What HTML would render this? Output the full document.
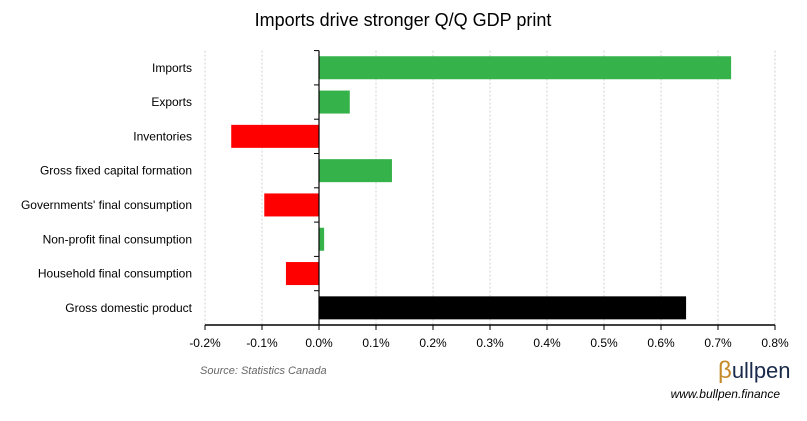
<!DOCTYPE html>
<html><head><meta charset="utf-8"><style>
body{margin:0;background:#fff;font-family:"Liberation Sans",sans-serif}
svg text{font-family:"Liberation Sans",sans-serif}
</style></head><body>
<svg id="c" width="807" height="416" xmlns="http://www.w3.org/2000/svg">
<text x="403" y="26" text-anchor="middle" font-size="18" fill="#000">Imports drive stronger Q/Q GDP print</text>
<g id="grid"></g><g id="bars"></g><g id="axes"></g>
<text x="200" y="374" font-size="11" font-style="italic" fill="#666">Source: Statistics Canada</text>
<text x="718" y="378" font-size="22" fill="#1a2a4a"><tspan fill="#c58a2a" font-size="24">β</tspan>ullpen</text>
<text x="780" y="398" text-anchor="end" font-size="12" font-style="italic" fill="#000">www.bullpen.finance</text>
</svg>
<script>
const categories=["Imports","Exports","Inventories","Gross fixed capital formation","Governments' final consumption","Non-profit final consumption","Household final consumption","Gross domestic product"];
const values=[0.723,0.054,-0.154,0.128,-0.096,0.009,-0.058,0.644];
const colors=["#36b24a","#36b24a","#ff0000","#36b24a","#ff0000","#36b24a","#ff0000","#000000"];
const ticks=[-0.2,-0.1,0,0.1,0.2,0.3,0.4,0.5,0.6,0.7,0.8];
const ns="http://www.w3.org/2000/svg";
const X0=205,X1=775,xmin=-0.2,xmax=0.8,yTop=50.6,yBot=325;
const xs=v=>X0+(v-xmin)/(xmax-xmin)*(X1-X0);
const step=(yBot-yTop)/categories.length;
const ys=i=>yTop+step*i;
function mk(t,a,p){const e=document.createElementNS(ns,t);for(const k in a)e.setAttribute(k,a[k]);p.appendChild(e);return e;}
const G=document.getElementById('grid'),B=document.getElementById('bars'),A=document.getElementById('axes');
ticks.forEach(t=>{
 if(t!==0){const l=mk('line',{x1:xs(t),x2:xs(t),y1:yTop,y2:yBot,stroke:'#d0d0d0','stroke-dasharray':'2,2','stroke-width':1},G);
 
 }
 const tk=mk('line',{x1:xs(t),x2:xs(t),y1:yBot,y2:yBot+5,stroke:'#000'},A);
 
 
 const tx=mk('text',{x:xs(t),y:yBot+22,'text-anchor':'middle','font-size':12,fill:'#000'},A);
 tx.textContent=t.toFixed(1)+'%';
 
 
});
categories.forEach((c,i)=>{
 const v=values[i],h=23,cy=ys(i)+step/2;
 const r=mk('rect',{x:Math.min(xs(0),xs(v)),y:cy-h/2,width:Math.abs(xs(v)-xs(0)),height:h,fill:colors[i]},B);
 
 
 const t=mk('text',{x:192,y:cy+4,'text-anchor':'end','font-size':12,fill:'#000'},A);
 t.textContent=c;
 
 
 const ct=mk('line',{x1:xs(0)-5,x2:xs(0),y1:ys(i),y2:ys(i),stroke:'#000'},A);
 
 
});
const xa=mk('line',{x1:X0,x2:X1,y1:yBot,y2:yBot,stroke:'#000','stroke-width':1.5},A);


const ya=mk('line',{x1:xs(0),x2:xs(0),y1:yTop,y2:yBot,stroke:'#000','stroke-width':1.2},A);


</script>
</body></html>
